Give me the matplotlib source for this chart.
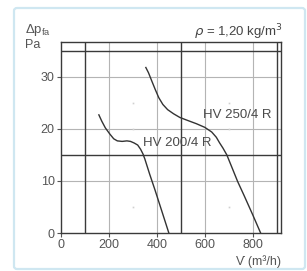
import matplotlib
matplotlib.use('Agg')
import matplotlib.pyplot as plt
import matplotlib.patches as patches

plt.rcParams['font.family'] = ['Liberation Sans', 'DejaVu Sans']

# fan curves
hv200_flow = [158, 170, 185, 204, 220, 235, 255, 275, 290, 305, 320, 332, 342, 350,
              370, 392, 420, 450]
hv200_dp = [22.7, 21.5, 20.2, 19.0, 18.1, 17.7, 17.6, 17.7, 17.6, 17.3, 16.9, 16.1, 15.2, 14.2,
            11.3, 8.3, 4.3, 0.0]
hv250_flow = [354, 365, 378, 393, 408, 425, 445, 470, 496, 530, 565, 600, 629, 648, 662,
              676, 692, 715, 737, 765, 800, 833]
hv250_dp = [31.8, 30.8, 29.3, 27.6, 26.0, 24.7, 23.7, 22.9, 22.2, 21.6, 21.0, 20.3, 19.4, 18.4, 17.3,
            16.3, 15.0, 12.4, 9.9, 7.1, 3.5, 0.0]

x_ticks = [0, 200, 400, 600, 800]
y_ticks = [0, 10, 20, 30]
x_dark = [100, 500, 900]
y_dark = [15, 35]

W, H = 307, 271
fig = plt.figure(figsize=(W / 100, H / 100), dpi=100)
fig.patch.set_facecolor('white')

def fx(px):
    return px / W

def fy(py):
    return 1 - py / H

# light blue frame around the whole card
frame = patches.FancyBboxPatch((fx(14), fy(269)), fx(305) - fx(14), fy(8) - fy(269),
                               boxstyle="round,pad=0,rounding_size=0.01",
                               transform=fig.transFigure, facecolor='none',
                               edgecolor='#cfe7f1', linewidth=1.6, zorder=0)
fig.patches.append(frame)

ax = fig.add_axes([fx(61), fy(233), fx(281) - fx(61), fy(42) - fy(233)])
ax.set_xlim(0, 918)
ax.set_ylim(0, 36.7)
ax.patch.set_alpha(0)

# grid: thin gray at the labelled values, dark at the others
for x in x_ticks[1:]:
    ax.axvline(x, color='#b4b4b4', lw=0.8, zorder=1)
for y in y_ticks[1:]:
    ax.axhline(y, color='#b4b4b4', lw=0.8, zorder=1)
for x in x_dark:
    ax.axvline(x, color='#3a3a3a', lw=1.0, zorder=2)
for y in y_dark:
    ax.axhline(y, color='#3a3a3a', lw=1.0, zorder=2)

# faint minor dots
for x in [300, 700]:
    for y in [5, 20, 25]:
        ax.plot(x, y, marker='s', ms=1.2, color='#d0d0d0', mec='none', zorder=1)

ax.plot(hv200_flow, hv200_dp, color='#333333', lw=1.0, zorder=3)
ax.plot(hv250_flow, hv250_dp, color='#333333', lw=1.0, zorder=3)

ax.text(342, 17.2, 'HV 200/4 R', fontsize=9.5, color='#4a4a4a', ha='left', va='center', zorder=4)
ax.text(593, 22.7, 'HV 250/4 R', fontsize=9.5, color='#4a4a4a', ha='left', va='center', zorder=4)

ax.set_xticks(x_ticks)
ax.set_yticks(y_ticks)
ax.tick_params(axis='both', length=3, width=0.8, color='#555555', labelsize=9,
               labelcolor='#555555', pad=1.5)
for s in ax.spines.values():
    s.set_color('#3a3a3a')
    s.set_linewidth(1.0)

fig.text(fx(25), fy(30.5), r'$\mathregular{\Delta p_{fa}}$', fontsize=9.5, color='#555555',
         ha='left', va='center')
fig.text(fx(25), fy(45), 'Pa', fontsize=9, color='#555555', ha='left', va='center')
fig.text(fx(283), fy(32), r'$\rho$ = 1,20 kg/m$^3$', fontsize=9.5, color='#444444',
         ha='right', va='center')
fig.text(fx(281), fy(262), 'V\u0307 (m\u00b3/h)', fontsize=9, color='#555555',
         ha='right', va='center')

fig.savefig('out.png', dpi=100, facecolor='white')
